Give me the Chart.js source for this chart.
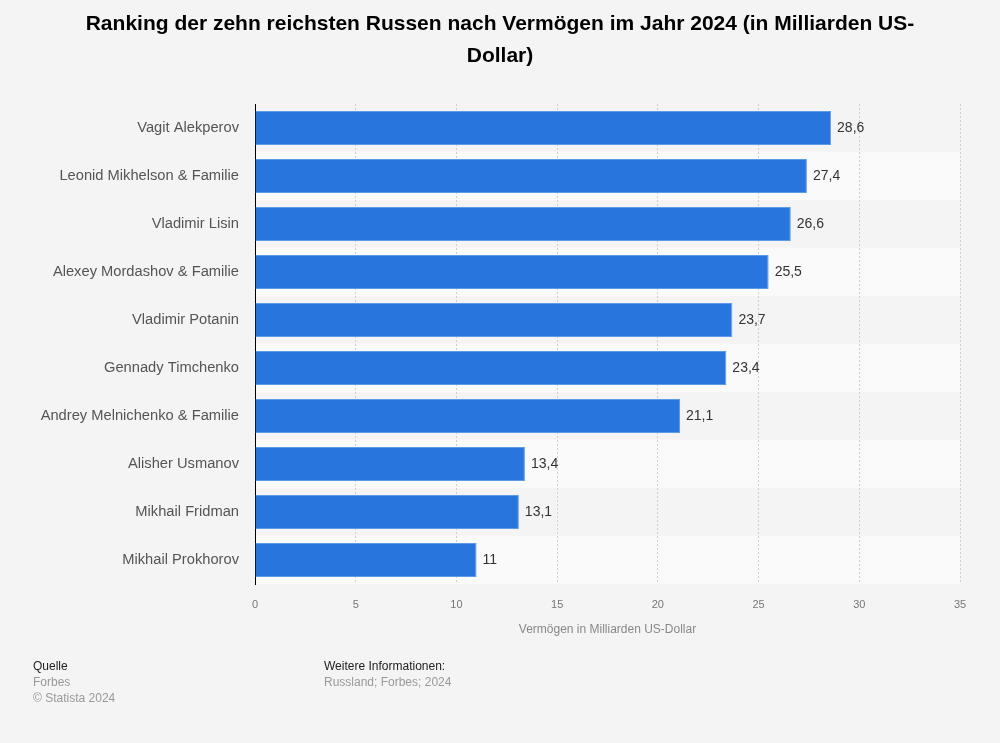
<!DOCTYPE html>
<html lang="de">
<head>
<meta charset="utf-8">
<script src="https://cdn.jsdelivr.net/npm/chart.js@4"></script>
<style>
  html, body { margin: 0; padding: 0; background: #f4f4f4; }
  body { width: 1000px; height: 743px; position: relative; overflow: hidden;
         font-family: "Liberation Sans", Arial, sans-serif; }
  #chart { position: absolute; left: 0; top: 0; }
  h1 { position: absolute; left: 0; top: 7px; width: 1000px; margin: 0; text-align: center;
       font-size: 21px; line-height: 32px; font-weight: bold; color: #000; }
  .foot { position: absolute; top: 658px; font-size: 12px; line-height: 16px; color: #999; }
  .foot b { font-weight: normal; color: #222; display: block; }
</style>
</head>
<body>
<canvas id="chart" width="1000" height="743"></canvas>
<h1>Ranking der zehn reichsten Russen nach Vermögen im Jahr 2024 (in Milliarden US-<br>Dollar)</h1>
<div class="foot" style="left:33px;"><b>Quelle</b>Forbes<br>© Statista 2024</div>
<div class="foot" style="left:324px;"><b>Weitere Informationen:</b>Russland; Forbes; 2024</div>
<script>
/* ── data ─────────────────────────────────────────────────────────────── */
const NAMES = [
  'Vagit Alekperov',
  'Leonid Mikhelson & Familie',
  'Vladimir Lisin',
  'Alexey Mordashov & Familie',
  'Vladimir Potanin',
  'Gennady Timchenko',
  'Andrey Melnichenko & Familie',
  'Alisher Usmanov',
  'Mikhail Fridman',
  'Mikhail Prokhorov',
];
const WEALTH = [28.6, 27.4, 26.6, 25.5, 23.7, 23.4, 21.1, 13.4, 13.1, 11];
const X_TICKS = [0, 5, 10, 15, 20, 25, 30, 35];

const FONT = '"Liberation Sans", Arial, sans-serif';
const BAR_COLOR = '#2876dd';
const fmt = v => String(v).replace('.', ',');

// lighter background on every second row, drawn before the grid
const rowBands = {
  id: 'rowBands',
  beforeDraw(chart) {
    const { ctx, chartArea: a, scales: { y } } = chart;
    const half = (y.getPixelForValue(1) - y.getPixelForValue(0)) / 2;
    ctx.save();
    ctx.fillStyle = '#fafafa';
    NAMES.forEach((n, i) => {
      if (i % 2 === 1) {
        const c = y.getPixelForValue(i);
        ctx.fillRect(a.left, c - half, a.right - a.left, half * 2);
      }
    });
    ctx.restore();
  },
};

// value label at the end of each bar
const valueLabels = {
  id: 'valueLabels',
  afterDatasetsDraw(chart) {
    const { ctx } = chart;
    ctx.save();
    ctx.font = '14px ' + FONT;
    ctx.fillStyle = '#333';
    ctx.textBaseline = 'middle';
    chart.getDatasetMeta(0).data.forEach((bar, i) => {
      ctx.fillText(fmt(WEALTH[i]), bar.x + 6, bar.y);
    });
    ctx.restore();
  },
};

new Chart(document.getElementById('chart').getContext('2d'), {
  type: 'bar',
  data: {
    labels: NAMES,
    datasets: [{
      data: WEALTH,
      backgroundColor: BAR_COLOR,
      borderColor: '#5d9be9',
      borderWidth: { top: 1, bottom: 1, left: 0, right: 1 },
      categoryPercentage: 1,
      barPercentage: 0.71,
    }],
  },
  options: {
    indexAxis: 'y',
    responsive: false,
    animation: false,
    layout: { padding: { left: 0, right: 40, top: 104, bottom: 102 } },
    plugins: {
      legend: { display: false },
      tooltip: { enabled: false },
      title: { display: false },
    },
    scales: {
      x: {
        min: 0, max: 35,
        afterBuildTicks: s => { s.ticks = X_TICKS.map(v => ({ value: v })); },
        afterFit: s => { s.height = 57; },
        grid: { color: '#cfcfcf', drawTicks: false },
        border: { display: false, dash: [2, 2] },
        ticks: { color: '#777', padding: 14, font: { family: FONT, size: 11 } },
        title: {
          display: true,
          text: 'Vermögen in Milliarden US-Dollar',
          color: '#888',
          padding: { top: 4 },
          font: { family: FONT, size: 12 },
        },
      },
      y: {
        afterFit: s => { s.width = 255; },
        grid: { display: false },
        border: { display: true, color: '#000', width: 1 },
        ticks: { color: '#555', padding: 8, font: { family: FONT, size: 14.7 } },
      },
    },
  },
  plugins: [rowBands, valueLabels],
});
</script>
</body>
</html>
